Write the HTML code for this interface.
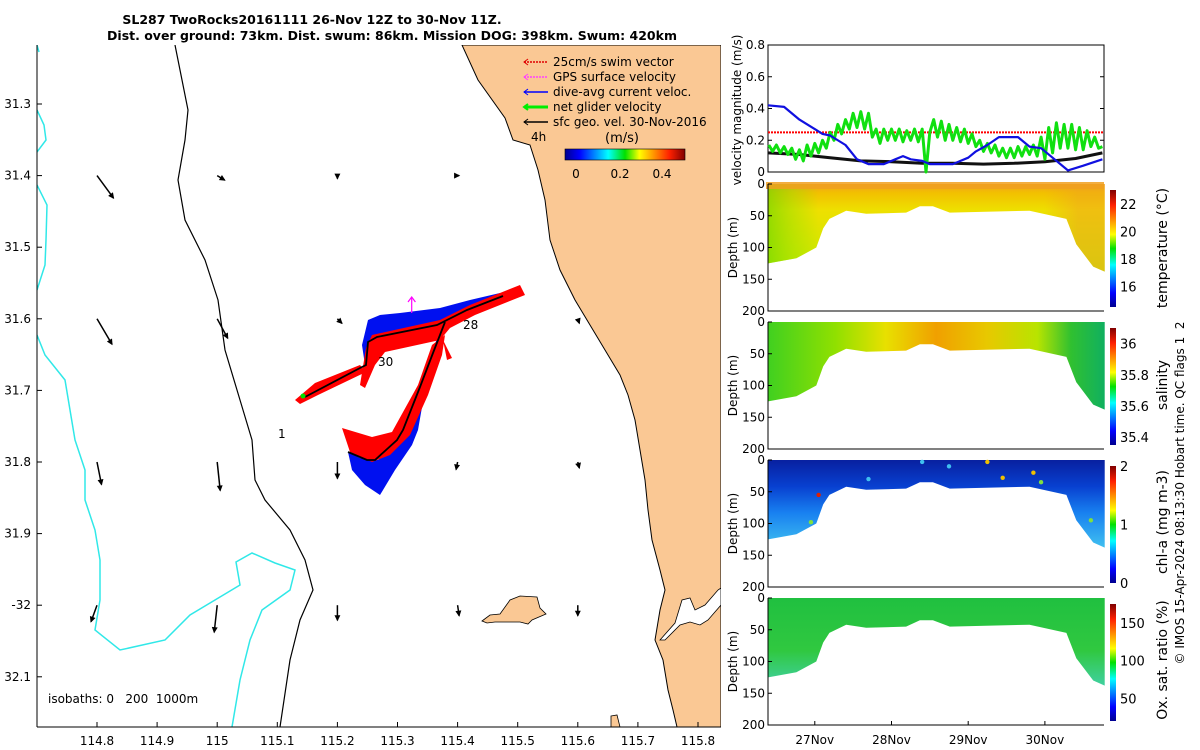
<!DOCTYPE html>
<html><head><meta charset="utf-8"><style>
html,body{margin:0;padding:0;background:#fff;}
svg{display:block;font-family:"DejaVu Sans","Liberation Sans",sans-serif;}
</style></head><body>
<svg id="svg" width="1200" height="750" viewBox="0 0 1200 750" xmlns="http://www.w3.org/2000/svg">
<defs>
<linearGradient id="jet" x1="0" x2="1" y1="0" y2="0">
<stop offset="0" stop-color="#00008f"/><stop offset="0.12" stop-color="#0000ff"/><stop offset="0.36" stop-color="#00ffff"/><stop offset="0.5" stop-color="#00e000"/><stop offset="0.62" stop-color="#ffff00"/><stop offset="0.87" stop-color="#ff2000"/><stop offset="1" stop-color="#800000"/>
</linearGradient>
<linearGradient id="jetv" x1="0" x2="0" y1="1" y2="0">
<stop offset="0" stop-color="#00008f"/><stop offset="0.12" stop-color="#0000ff"/><stop offset="0.36" stop-color="#00ffff"/><stop offset="0.5" stop-color="#00e000"/><stop offset="0.62" stop-color="#ffff00"/><stop offset="0.87" stop-color="#ff2000"/><stop offset="1" stop-color="#800000"/>
</linearGradient>
<linearGradient id="tempV" x1="0" x2="0" y1="0" y2="1">
<stop offset="0" stop-color="#f0a020"/><stop offset="0.1" stop-color="#f2c000"/><stop offset="0.3" stop-color="#eee000"/><stop offset="1" stop-color="#c4ea00"/>
</linearGradient>
<linearGradient id="tempH" x1="0" x2="1" y1="0" y2="0">
<stop offset="0" stop-color="#70d800" stop-opacity="0.7"/><stop offset="0.08" stop-color="#90e000" stop-opacity="0.4"/><stop offset="0.15" stop-color="#90e000" stop-opacity="0"/><stop offset="0.82" stop-color="#f0a020" stop-opacity="0"/><stop offset="0.92" stop-color="#f0a020" stop-opacity="0.5"/><stop offset="1" stop-color="#f0a020" stop-opacity="0.5"/>
</linearGradient>
<linearGradient id="salH" x1="0" x2="1" y1="0" y2="0">
<stop offset="0" stop-color="#40d020"/><stop offset="0.2" stop-color="#90e000"/><stop offset="0.35" stop-color="#e8e000"/><stop offset="0.5" stop-color="#f0a000"/><stop offset="0.65" stop-color="#e8c800"/><stop offset="0.8" stop-color="#b8e400"/><stop offset="0.9" stop-color="#30c030"/><stop offset="1" stop-color="#10b060"/>
</linearGradient>
<linearGradient id="chlV" x1="0" x2="0" y1="0" y2="1">
<stop offset="0" stop-color="#0820a0"/><stop offset="0.3" stop-color="#0840d0"/><stop offset="0.6" stop-color="#1880f0"/><stop offset="1" stop-color="#40c0f0"/>
</linearGradient>
<linearGradient id="oxV" x1="0" x2="0" y1="0" y2="1">
<stop offset="0" stop-color="#20c040"/><stop offset="0.6" stop-color="#30c840"/><stop offset="1" stop-color="#40d0a0"/>
</linearGradient>
</defs>

<text x="312" y="24" font-size="12.5" font-weight="bold" text-anchor="middle">SL287 TwoRocks20161111 26-Nov 12Z to 30-Nov 11Z.</text>
<text x="392" y="40" font-size="12.5" font-weight="bold" text-anchor="middle">Dist. over ground: 73km. Dist. swum: 86km. Mission DOG: 398km. Swum: 420km</text>

<g id="map">
<clipPath id="mapclip"><rect x="37" y="45" width="684" height="682"/></clipPath>
<g clip-path="url(#mapclip)">
<path fill="#fac894" stroke="#000" stroke-width="1" d="M462,45 L478,80 L505,118 L513,140 L530,145 L538,170 L545,200 L550,240 L560,270 L575,300 L590,325 L605,350 L620,375 L628,395 L635,420 L640,450 L645,480 L648,510 L652,540 L660,570 L665,590 L660,610 L655,640 L663,660 L668,690 L673,710 L677,727 L721,727 L721,45 Z"/>
<path fill="#fff" stroke="#000" stroke-width="0.8" d="M660,640 L675,623 L682,600 L690,598 L695,610 L705,605 L718,590 L721,588 L721,605 L708,620 L700,625 L690,622 L680,625 L665,640 Z"/>
<path fill="#fac894" stroke="#000" stroke-width="0.8" d="M482,621 L490,615 L500,614 L510,600 L520,596 L537,597 L540,608 L546,614 L532,620 L528,624 L520,622 L495,622 L487,623 Z"/>
<path fill="#fac894" stroke="#000" stroke-width="0.8" d="M611,716 L617,715 L620,727 L611,727 Z"/>
<path fill="none" stroke="#000" stroke-width="1.2" d="M175,45 L182,80 L188,110 L185,140 L178,180 L185,220 L205,260 L218,300 L225,350 L240,400 L252,440 L255,480 L265,500 L290,530 L305,560 L313,590 L300,620 L290,660 L280,727"/>
<path fill="none" stroke="#30e8e8" stroke-width="1.5" d="M37,110 L44,125 L46,140 L37,152 M37,185 L47,205 L46,240 L45,265 L37,290 M37,335 L45,355 L65,380 L70,410 L75,440 L85,470 L85,500 L95,530 L100,560 L100,600 L95,630 L120,650 L165,640 L190,615 L215,600 L240,585 L236,562 L252,553 L275,563 L295,570 L290,590 L262,610 L250,640 L240,680 L232,727"/>
<path fill="none" stroke="#30e8e8" stroke-width="1.5" d="M37,45 L39,52"/>
<path fill="#0010f0" d="M366,372 L362,345 L368,320 L380,315 L400,313 L440,308 L470,300 L500,293 L503,298 L470,312 L445,322 L435,355 L425,390 L418,430 L412,445 L395,470 L380,495 L365,485 L352,470 L348,452 L360,458 L378,460 L398,442 L420,390 L438,335 L380,340 L372,350 Z"/>
<path fill="#ff0000" d="M365,388 L360,385 L366,348 L372,335 L440,320 L470,305 L520,285 L525,295 L475,315 L450,328 L440,340 L385,352 L375,365 Z M295,400 L315,383 L360,365 L366,372 L318,395 L300,404 Z M342,428 L372,437 L392,432 L418,385 L432,345 L445,335 L442,355 L428,395 L410,435 L390,455 L372,462 L350,452 Z M443,340 L452,358 L447,360 Z"/>
<path fill="none" stroke="#000" stroke-width="1.8" d="M305,397 L360,368 L366,365 L368,342 L377,337 L437,325 L467,310 L503,296 M445,322 L433,353 L420,387 L403,430 L397,440 L375,460 L367,460 L348,452"/>
<circle cx="303" cy="396" r="2.5" fill="#00e000"/>
<line x1="411.7" y1="313" x2="411.7" y2="298" stroke="#ff00ff" stroke-width="1.2"/>
<path d="M408,302 L411.7,297 L415.4,302" fill="none" stroke="#ff00ff" stroke-width="1.2"/>
<text x="378" y="366" font-size="12">30</text>
<text x="463" y="329" font-size="12">28</text>
<text x="278" y="438" font-size="12">1</text>
<text x="531" y="141" font-size="12">4h</text>
<g id="arrows"></g>
</g>
<line x1="37" y1="45" x2="37" y2="727" stroke="#000"/>
<line x1="37" y1="727" x2="721" y2="727" stroke="#000"/>
<g id="mapticks"></g>
<g font-size="12">
<line x1="524" y1="62" x2="548" y2="62" stroke="#e00000" stroke-width="1.5" stroke-dasharray="2,1"/><path d="M528,59 L524,62 L528,65" fill="none" stroke="#e00000"/>
<text x="553" y="66">25cm/s swim vector</text>
<line x1="524" y1="77" x2="548" y2="77" stroke="#ff40ff" stroke-width="1.5" stroke-dasharray="2,1"/><path d="M528,74 L524,77 L528,80" fill="none" stroke="#ff40ff"/>
<text x="553" y="81">GPS surface velocity</text>
<line x1="524" y1="92" x2="548" y2="92" stroke="#0000ff" stroke-width="1.5"/><path d="M528,89 L524,92 L528,95" fill="none" stroke="#0000ff"/>
<text x="553" y="96">dive-avg current veloc.</text>
<line x1="524" y1="107" x2="548" y2="107" stroke="#00ee00" stroke-width="3"/><path d="M528,104 L524,107 L528,110" fill="none" stroke="#00ee00" stroke-width="2"/>
<text x="553" y="111">net glider velocity</text>
<line x1="524" y1="122" x2="548" y2="122" stroke="#000" stroke-width="1.5"/><path d="M528,119 L524,122 L528,125" fill="none" stroke="#000"/>
<text x="553" y="126">sfc geo. vel. 30-Nov-2016</text>
<text x="622" y="142" font-size="13" text-anchor="middle">(m/s)</text>
<rect x="565" y="149" width="120" height="11" fill="url(#jet)" stroke="#000" stroke-width="0.6"/>
<text x="576" y="178" text-anchor="middle">0</text>
<text x="620" y="178" text-anchor="middle">0.2</text>
<text x="662" y="178" text-anchor="middle">0.4</text>
</g>
<text x="48" y="703" font-size="12" xml:space="preserve">isobaths: 0   200  1000m</text>
</g>

<g id="vel"></g>
<g id="sections"></g>
<text transform="translate(1184,493) rotate(-90)" font-size="12" text-anchor="middle" xml:space="preserve">© IMOS 15-Apr-2024 08:13:30 Hobart time. QC flags 1  2</text>
</svg>
<script>
var mapLonTicks = [114.8,114.9,115,115.1,115.2,115.3,115.4,115.5,115.6,115.7,115.8];
var mapLatTicks = [31.3,31.4,31.5,31.6,31.7,31.8,31.9,32.0,32.1];
var mapLatLabels = ["31.3","31.4","31.5","31.6","31.7","31.8","31.9","-32","32.1"];
var arrowLon = [114.8,115.0,115.2,115.4,114.8,115.0,115.2,115.6,114.8,115.0,115.2,115.4,115.6,114.8,115.0,115.2,115.4,115.6];
var arrowLat = [31.4,31.4,31.4,31.4,31.6,31.6,31.6,31.6,31.8,31.8,31.8,31.8,31.8,32.0,32.0,32.0,32.0,32.0];
var arrowU = [0.11,0.05,0.0,0.01,0.10,0.07,0.03,0.01,0.03,0.02,0.0,-0.01,0.01,-0.04,-0.02,0.0,0.01,0.0];
var arrowV = [-0.15,-0.03,-0.02,0.0,-0.17,-0.13,-0.03,-0.03,-0.15,-0.19,-0.11,-0.05,-0.04,-0.11,-0.18,-0.10,-0.07,-0.07];

var greenStart = 26.40, greenStep = 0.05;
var greenVel = [.17,.13,.17,.12,.16,.11,.15,.08,.14,
 .07,.17,.10,.18,.12,.20,
 .15,.25,.20,.30,.24,.33,
 .27,.37,.28,.38,.27,.37,
 .22,.27,.18,.27,.20,
 .27,.20,.27,.19,.26,.20,.27,.19,.27,
 .00,
 .25,.33,.22,.32,.20,.30,.20,
 .28,.19,.27,.18,.24,.16,
 .20,.13,.18,.12,.17,.10,
 .15,.09,.15,.09,.16,.10,.16,.11,
 .17,.10,.22,.08,.28,
 .12,.31,.15,.30,.15,.30,.14,.28,.14,.26,.16,.22,.15,.16];
var blueDays = [26.39,26.6,26.8,27.0,27.1,27.2,27.4,27.55,27.7,27.9,28.05,28.15,28.25,28.4,28.5,28.6,28.8,28.9,29.0,29.1,29.25,29.4,29.5,29.65,29.8,29.95,30.1,30.3,30.5,30.75];
var blueVel = [.42,.41,.33,.27,.24,.23,.17,.08,.05,.05,.08,.10,.08,.07,.05,.05,.05,.07,.09,.13,.17,.22,.22,.22,.16,.15,.09,.01,.04,.08];
var blackDays = [26.39,26.8,27.2,27.6,28.0,28.4,28.8,29.2,29.6,30.0,30.4,30.75];
var blackVel = [.12,.11,.09,.07,.065,.055,.055,.05,.055,.065,.085,.12];
var swimVel = 0.25;
var velTicks = [0,0.2,0.4,0.6,0.8];
var dateTicks = [27,28,29,30];
var dateLabels = ["27Nov","28Nov","29Nov","30Nov"];
var secDays = [26.39,26.76,27.02,27.11,27.19,27.41,27.67,28.19,28.37,28.54,28.76,29.80,30.28,30.41,30.63,30.78];
var secDepth = [125,117,100,70,55,42,47,45,35,35,45,42,55,95,130,138];
var depthTicks = [0,50,100,150,200];
var tempTicks = [16,18,20,22];
var salTicks = [35.4,35.6,35.8,36];
var chlTicks = [0,1,2];
var oxTicks = [50,100,150];
var chlDotDays = [27.05,26.95,28.4,29.25,29.45,29.85,29.95,30.6,27.7,28.75];
var chlDotDepth = [55,98,3,3,28,20,35,95,30,10];
var chlDotVal = [1.9,1.2,0.8,1.5,1.3,1.4,1.1,1.2,0.7,0.6];

var NS="http://www.w3.org/2000/svg";
function mk(tag, parent){var e=document.createElementNS(NS,tag);parent.appendChild(e);return e;}
function lonX(l){return 97+(l-114.8)*601;}
function latY(l){return 104+(l-31.3)*716;}
function dayX(d){return 768+(d-26.39)*76.7;}
function velY(v){return 172-v*158.75;}

var mt=document.getElementById('mapticks');
mapLonTicks.forEach(function(l){
  var x=lonX(l);
  var t=mk('line',mt);t.setAttribute('x1',x);t.setAttribute('x2',x);t.setAttribute('y1',727);t.setAttribute('y2',722);t.setAttribute('stroke','#000');
  
  
  var tx=mk('text',mt);tx.setAttribute('x',x);tx.setAttribute('y',745);tx.setAttribute('font-size','12');tx.setAttribute('text-anchor','middle');tx.textContent=String(l===115?'115':l);
  
  
});
mapLatTicks.forEach(function(l,i){
  var y=latY(l);
  var t=mk('line',mt);t.setAttribute('x1',37);t.setAttribute('x2',42);t.setAttribute('y1',y);t.setAttribute('y2',y);t.setAttribute('stroke','#000');
  
  
  var tx=mk('text',mt);tx.setAttribute('x',31);tx.setAttribute('y',y+4);tx.setAttribute('font-size','12');tx.setAttribute('text-anchor','end');tx.textContent=mapLatLabels[i];
  
  
});
var ag=document.getElementById('arrows');
for(var i=0;i<arrowLon.length;i++){
  var x0=lonX(arrowLon[i]), y0=latY(arrowLat[i]);
  var x1=x0+arrowU[i]*150, y1=y0-arrowV[i]*150;
  var ln=mk('line',ag);ln.setAttribute('x1',x0);ln.setAttribute('y1',y0);ln.setAttribute('x2',x1);ln.setAttribute('y2',y1);ln.setAttribute('stroke','#000');ln.setAttribute('stroke-width','1.5');
  
  
  var ang=Math.atan2(y1-y0,x1-x0), L=5;
  var hp=mk('path',ag);
  hp.setAttribute('d','M'+(x1-L*Math.cos(ang-0.45))+','+(y1-L*Math.sin(ang-0.45))+' L'+x1+','+y1+' L'+(x1-L*Math.cos(ang+0.45))+','+(y1-L*Math.sin(ang+0.45))+' Z');
  hp.setAttribute('fill','#000');hp.setAttribute('stroke','#000');
  
  
}

var vg=document.getElementById('vel');
var fr=mk('rect',vg);fr.setAttribute('x',768);fr.setAttribute('y',45);fr.setAttribute('width',336);fr.setAttribute('height',127);fr.setAttribute('fill','none');fr.setAttribute('stroke','#000');


velTicks.forEach(function(v){
  var y=velY(v);
  var t=mk('path',vg);t.setAttribute('d','M768,'+y+' h4 M1104,'+y+' h-4');t.setAttribute('stroke','#000');
  
  
  var tx=mk('text',vg);tx.setAttribute('x',765);tx.setAttribute('y',y+4);tx.setAttribute('font-size','12');tx.setAttribute('text-anchor','end');tx.textContent=String(v);
  
  
});
var vt=mk('text',vg);vt.setAttribute('transform','translate(741,110) rotate(-90)');vt.setAttribute('font-size','12');vt.setAttribute('text-anchor','middle');vt.textContent='velocity magnitude (m/s)';


var sw=mk('line',vg);sw.setAttribute('x1',768);sw.setAttribute('x2',1104);sw.setAttribute('y1',velY(swimVel));sw.setAttribute('y2',velY(swimVel));sw.setAttribute('stroke','#ff0000');sw.setAttribute('stroke-width','2');sw.setAttribute('stroke-dasharray','2,1');


function pl(days,vals,color,w){
  var p=mk('polyline',vg);
  p.setAttribute('points',vals.map(function(v,i){return dayX(days[i]).toFixed(1)+','+velY(v).toFixed(1);}).join(' '));
  p.setAttribute('fill','none');p.setAttribute('stroke',color);p.setAttribute('stroke-width',w);p.setAttribute('stroke-linejoin','round');
  return p;
}
var gDays=greenVel.map(function(v,i){return greenStart+i*greenStep;});
var bk=pl(blackDays,blackVel,'#111','3');


var gl=pl(gDays,greenVel,'#10e010','3');


var bl=pl(blueDays,blueVel,'#1010e0','2.2');



var sg=document.getElementById('sections');
var panels=[
 {top:184,name:'temperature',fill:'url(#tempV)',over:'url(#tempH)',ticks:tempTicks,lo:14.5,hi:23,title:'temperature (°C)',ty:248},
 {top:322,name:'salinity',fill:'url(#salH)',over:null,ticks:salTicks,lo:35.35,hi:36.1,title:'salinity',ty:385},
 {top:460,name:'chl-a',fill:'url(#chlV)',over:null,ticks:chlTicks,lo:0,hi:2,title:'chl-a (mg m-3)',ty:522},
 {top:598,name:'oxygen',fill:'url(#oxV)',over:null,ticks:oxTicks,lo:20,hi:175,title:'Ox. sat. ratio (%)',ty:660}
];
panels.forEach(function(P){
  var top=P.top, h=127;
  function dY(d){return top+d*h/200;}
  var pts=[dayX(secDays[0])+','+top];
  for(var k=0;k<secDays.length;k++){pts.push(dayX(secDays[k]).toFixed(1)+','+dY(secDepth[k]).toFixed(1));}
  pts.push(dayX(secDays[secDays.length-1])+','+top);
  var poly=mk('polygon',sg);poly.setAttribute('points',pts.join(' '));poly.setAttribute('fill',P.fill);
  
  
  if(P.over){var o=mk('polygon',sg);o.setAttribute('points',pts.join(' '));o.setAttribute('fill',P.over);
    
    }
  if(P.name==='temperature'){var s=mk('rect',sg);s.setAttribute('x',766);s.setAttribute('y',top-2);s.setAttribute('width',338);s.setAttribute('height',7);s.setAttribute('fill','#f0a020');s.setAttribute('opacity','0.85');
    
    }
  if(P.name==='chl-a'){
    for(var c=0;c<chlDotDays.length;c++){
      var ci=mk('circle',sg);ci.setAttribute('cx',dayX(chlDotDays[c]));ci.setAttribute('cy',dY(chlDotDepth[c]));ci.setAttribute('r',2.2);
      var f=chlDotVal[c]/2;ci.setAttribute('fill',f>0.85?'#e02000':f>0.6?'#f0c000':f>0.4?'#80e040':'#40c0f0');
      
      
    }
  }
  var ax=mk('path',sg);ax.setAttribute('d','M768,'+top+' V'+(top+h)+' H1104');ax.setAttribute('fill','none');ax.setAttribute('stroke','#000');
  
  
  depthTicks.forEach(function(d){
    var y=dY(d);
    var t=mk('line',sg);t.setAttribute('x1',768);t.setAttribute('x2',772);t.setAttribute('y1',y);t.setAttribute('y2',y);t.setAttribute('stroke','#000');
    
    
    var tx=mk('text',sg);tx.setAttribute('x',765);tx.setAttribute('y',y+4);tx.setAttribute('font-size','12');tx.setAttribute('text-anchor','end');tx.textContent=String(d);
    
    
  });
  var yt=mk('text',sg);yt.setAttribute('transform','translate(737,'+(top+h/2)+') rotate(-90)');yt.setAttribute('font-size','12');yt.setAttribute('text-anchor','middle');yt.textContent='Depth (m)';
  
  
  var cbTop=top+6, cbH=h-10;
  var cb=mk('rect',sg);cb.setAttribute('x',1110);cb.setAttribute('y',cbTop);cb.setAttribute('width',6);cb.setAttribute('height',cbH);cb.setAttribute('fill','url(#jetv)');
  
  
  P.ticks.forEach(function(v){
    var y=cbTop+cbH-(v-P.lo)/(P.hi-P.lo)*cbH;
    var tx=mk('text',sg);tx.setAttribute('x',1120);tx.setAttribute('y',y+5);tx.setAttribute('font-size','13');tx.textContent=String(v);
    
    
  });
  var ct=mk('text',sg);ct.setAttribute('transform','translate(1167,'+P.ty+') rotate(-90)');ct.setAttribute('font-size','14');ct.setAttribute('text-anchor','middle');ct.textContent=P.title;
  
  
});
dateTicks.forEach(function(d,i){
  var x=dayX(d);
  var t=mk('line',sg);t.setAttribute('x1',x);t.setAttribute('x2',x);t.setAttribute('y1',725);t.setAttribute('y2',721);t.setAttribute('stroke','#000');
  
  
  var tx=mk('text',sg);tx.setAttribute('x',x);tx.setAttribute('y',744);tx.setAttribute('font-size','12');tx.setAttribute('text-anchor','middle');tx.textContent=dateLabels[i];
  
  
});
</script>
</body></html>
